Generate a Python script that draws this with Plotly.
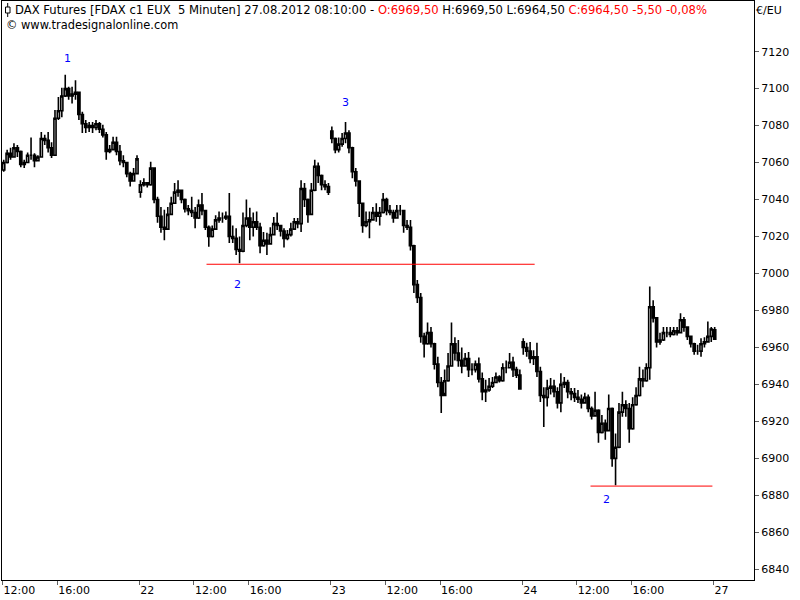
import plotly.graph_objects as go

# DAX futures, 15-minute candles
# (21.08.2012 12:00 .. 27.08.2012 08:10), sessions 08:00-22:00
highs = [
    7061.5, 7067, 7068, 7070.5, 7069.5, 7066.5, 7061.5, 7065.5, 7073.5, 7065,
    7064, 7076.5, 7075, 7076.5, 7071, 7088.5, 7095.5, 7100.5, 7107.5, 7101,
    7101, 7104.5, 7098.5, 7087.5, 7083, 7082, 7082, 7083, 7082, 7080.5,
    7076.5, 7069.5, 7074, 7074, 7069.5, 7064, 7060, 7055, 7057, 7064,
    7050.5, 7051.5, 7049.5, 7060.5, 7056, 7041.5, 7036, 7034.5, 7036, 7041.5,
    7049, 7050.5, 7045, 7040.5, 7037, 7041.5, 7036, 7040, 7043.5, 7034.5,
    7026, 7026, 7031.5, 7033.5, 7033, 7033.5, 7043.5, 7026, 7024.5, 7020,
    7033, 7040, 7035.5, 7033, 7033.5, 7027.5, 7022.5, 7022, 7025, 7030.5,
    7033, 7026, 7024.5, 7023.5, 7027.5, 7030, 7030, 7050.5, 7049, 7040.5,
    7049, 7061.5, 7060, 7053.5, 7050.5, 7049,
    7079.5, 7073.5, 7073.5, 7076, 7082, 7077.5, 7068.5, 7057, 7050.5, 7038,
    7033.5, 7033.5, 7036, 7038, 7036, 7043.5, 7041, 7037, 7034.5, 7037,
    7037, 7034.5, 7029, 7029, 7015.5, 6996.5, 6989.5, 6968, 6973.5, 6971,
    6962.5, 6955, 6944, 6948, 6957, 6973.5, 6965.5, 6964, 6960, 6957,
    6957.5, 6951.5, 6953, 6954.5, 6946.5, 6942.5, 6943.5, 6944, 6946.5, 6945,
    6951.5, 6953, 6957, 6955, 6949.5, 6948,
    6965, 6962.5, 6963, 6958.5, 6962.5, 6949.5, 6938.5, 6942.5, 6943.5, 6942.5,
    6938.5, 6946, 6944, 6942.5, 6938, 6938, 6937, 6934.5, 6935.5, 6934.5,
    6928, 6936, 6926.5, 6923.5, 6921, 6934.5, 6927.5, 6913.5, 6930, 6936,
    6931.5, 6930, 6933, 6938.5, 6949.5, 6948, 6951.5, 6993, 6985.5, 6976.5,
    6968, 6971, 6971, 6971, 6971, 6971, 6978.5, 6976.5, 6971, 6966.5,
    6962.5, 6961.5, 6965, 6965.5, 6974, 6971,
    6971,
]
lows = [
    7055, 7059.5, 7061.5, 7063, 7063, 7057.5, 7057, 7060, 7061.5, 7057.5,
    7061, 7063, 7069.5, 7065.5, 7062.5, 7064, 7083, 7084.5, 7095.5, 7094,
    7092, 7094, 7083, 7076, 7076, 7076.5, 7076, 7077.5, 7076, 7073.5,
    7061.5, 7065, 7066.5, 7064, 7058.5, 7057.5, 7052, 7047, 7050.5, 7053.5,
    7041, 7047, 7046.5, 7047.5, 7038, 7027.5, 7022, 7018, 7024.5, 7031.5,
    7038, 7041.5, 7038, 7033, 7031.5, 7030.5, 7024.5, 7029.5, 7031.5, 7023.5,
    7014.5, 7019.5, 7024.5, 7027.5, 7027.5, 7029, 7016.5, 7016.5, 7010, 7005.5,
    7011.5, 7025, 7018, 7020, 7023.5, 7011, 7014.5, 7010, 7015.5, 7020.5,
    7023.5, 7020, 7014, 7018, 7020, 7024.5, 7024.5, 7022.5, 7036, 7027.5,
    7031.5, 7044.5, 7049, 7045, 7045, 7042.5,
    7070.5, 7065, 7065.5, 7068.5, 7070.5, 7065, 7051.5, 7047, 7030.5, 7022,
    7025, 7019, 7028.5, 7028, 7026, 7032.5, 7031.5, 7031.5, 7027.5, 7030,
    7031.5, 7022, 7023.5, 7012.5, 6989.5, 6984, 6962.5, 6954.5, 6961.5, 6960,
    6948, 6938.5, 6924.5, 6935.5, 6941.5, 6949.5, 6953, 6949.5, 6946, 6949.5,
    6944, 6945, 6946.5, 6941, 6931.5, 6930.5, 6936, 6938, 6941, 6941,
    6941.5, 6946, 6949, 6944, 6943.5, 6937.5,
    6956, 6955, 6951.5, 6950.5, 6944, 6930.5, 6917, 6928, 6934.5, 6933,
    6927, 6925, 6938, 6932.5, 6931.5, 6930.5, 6930, 6927, 6930, 6925,
    6921, 6923.5, 6908.5, 6913.5, 6910, 6914.5, 6895.5, 6885.5, 6905.5, 6922.5,
    6922.5, 6908.5, 6915.5, 6928.5, 6933.5, 6938.5, 6941.5, 6942.5, 6973.5, 6960,
    6961.5, 6963.5, 6965.5, 6965.5, 6966.5, 6966.5, 6968, 6968.5, 6964, 6960,
    6956, 6956, 6955, 6960, 6963, 6963,
    6964.5,
]
closes = [
    7060, 7065, 7063, 7068, 7066, 7059, 7060, 7064, 7064, 7061,
    7063, 7073, 7072, 7068, 7064, 7084, 7088, 7096, 7100, 7096,
    7097, 7098, 7086, 7081, 7079, 7080, 7079, 7081, 7078, 7075,
    7066, 7067, 7071, 7066, 7061, 7060, 7054, 7050, 7054, 7062,
    7048, 7049, 7048, 7057, 7040, 7031, 7025, 7024, 7032, 7038,
    7044, 7045, 7040, 7035, 7034, 7033, 7030, 7037, 7034, 7025,
    7020, 7024, 7029, 7030, 7030, 7031, 7020, 7019, 7013, 7012,
    7026, 7030, 7025, 7028, 7025, 7015, 7018, 7016, 7021, 7027,
    7026, 7023, 7019, 7021, 7024, 7028, 7027, 7046, 7040, 7032,
    7045, 7058, 7053, 7048, 7047, 7044,
    7073, 7067, 7070, 7073, 7076, 7068, 7055, 7050, 7038, 7026,
    7028, 7029, 7033, 7031, 7033, 7040, 7034, 7033, 7030, 7034,
    7034, 7026, 7025, 7015, 6994, 6987, 6966, 6962, 6968, 6962,
    6951, 6941, 6934, 6942, 6950, 6962, 6957, 6953, 6950, 6954,
    6948, 6948, 6951, 6943, 6936, 6937, 6939, 6941, 6944, 6942,
    6949, 6949, 6952, 6948, 6945, 6937.5,
    6960, 6958, 6954, 6955, 6947, 6934, 6933, 6938, 6939, 6936,
    6930, 6940, 6941, 6936, 6935, 6933, 6932, 6930, 6933, 6927,
    6923, 6926, 6914, 6919, 6915, 6927, 6900, 6906, 6925, 6929,
    6927, 6916, 6929, 6934, 6943, 6942, 6949, 6982, 6976, 6963,
    6964, 6968, 6968, 6967, 6969, 6968, 6975, 6971, 6966, 6962,
    6958, 6958, 6962, 6963, 6966, 6970,
    6964.5,
]
# first bar of each session and its opening price
session_start_bars = [0, 40, 96, 152, 208]
session_opens = [7056, 7044, 7077, 6963, 6969.5]

# time axis in 5-minute slots (slot 0 = 21.08. 12:00)
tick_slots = [0, 48, 120, 168, 216, 288, 336, 384, 456, 504, 552, 624]
tick_text = ["12:00", "16:00", "22", "12:00", "16:00", "23",
             "12:00", "16:00", "24", "12:00", "16:00", "27"]
price_ticks = list(range(6840, 7121, 20))

# red support lines (slot from, slot to, level)
support_from = [179, 516]
support_to = [467, 623]
support_level = [7005, 6885]

# wave counts
wave_labels = ["1", "2", "3", "2"]
wave_slots = [57, 206, 301, 530]
wave_prices = [7116.5, 6994, 7092.5, 6877.5]

opens = []
for i in range(len(closes)):
    if i in session_start_bars:
        opens.append(session_opens[session_start_bars.index(i)])
    else:
        opens.append(closes[i - 1])
bar_slots = [3 * i + 1 for i in range(len(closes))]

fig = go.Figure()
fig.add_trace(go.Candlestick(
    x=bar_slots, open=opens, high=highs, low=lows, close=closes,
    increasing=dict(fillcolor="white", line=dict(color="black", width=1.6)),
    decreasing=dict(fillcolor="black", line=dict(color="black", width=1.6)),
    whiskerwidth=0, showlegend=False, hoverinfo="skip",
))
for x0, x1, lvl in zip(support_from, support_to, support_level):
    fig.add_trace(go.Scatter(x=[x0, x1], y=[lvl, lvl], mode="lines",
                             line=dict(color="#ff0000", width=1),
                             showlegend=False, hoverinfo="skip"))

for lab, xs, ys in zip(wave_labels, wave_slots, wave_prices):
    fig.add_annotation(x=xs, y=ys, text=lab, showarrow=False,
                       font=dict(color="#0000ff", size=11))

# plot area spans 2..754 px horizontally, 1..580 px vertically
def px(x, y):
    return (x - 2) / 752, 1 - (y - 1) / 579

hx, hy = px(12.5, 10)
fig.add_annotation(
    xref="paper", yref="paper", x=hx, y=hy, xanchor="left", yanchor="middle",
    showarrow=False, font=dict(size=11.6, color="black"),
    text="DAX Futures [FDAX c1 EUX\u00a0 5 Minuten] 27.08.2012 08:10:00 - "
         "<span style='color:#ff0000'>O:6969,50</span> H:6969,50 L:6964,50 "
         "<span style='color:#ff0000'>C:6964,50 -5,50 -0,08%</span>")
cx, cy = px(4, 25)
fig.add_annotation(xref="paper", yref="paper", x=cx, y=cy, xanchor="left",
                   yanchor="middle", showarrow=False,
                   font=dict(size=11.4, color="black"),
                   text="\u00a9 www.tradesignalonline.com")
fig.add_annotation(xref="paper", yref="paper", x=1, y=hy, xanchor="left",
                   yanchor="middle", xshift=0, showarrow=False,
                   font=dict(size=11, color="black"), text="\u20ac/EU")

# little candle icon in front of the title
lx0, ly0 = px(7.7, 3)
lx1, ly1 = px(7.7, 17)
fig.add_shape(type="line", xref="paper", yref="paper", x0=lx0, y0=ly0,
              x1=lx1, y1=ly1, line=dict(color="black", width=1))
rx0, ry0 = px(5.5, 7)
rx1, ry1 = px(10, 13)
fig.add_shape(type="rect", xref="paper", yref="paper", x0=rx0, y0=ry0,
              x1=rx1, y1=ry1, fillcolor="white", line=dict(color="black", width=1))

fig.update_layout(
    width=800, height=600,
    margin=dict(l=2, r=46, t=1, b=20, autoexpand=False),
    paper_bgcolor="white", plot_bgcolor="white",
    font=dict(family="DejaVu Sans, Verdana, sans-serif", size=11, color="black"),
    showlegend=False, boxgap=0.1,
)
fig.update_xaxes(
    range=[-0.5, 659.5], rangeslider_visible=False, automargin=False,
    tickvals=tick_slots, ticktext=tick_text,
    ticks="outside", ticklen=4, tickcolor="#606060",
    ticklabelposition="outside right", ticklabelstandoff=0,
    showgrid=False, zeroline=False,
    showline=True, linecolor="black", linewidth=1, mirror=True,
)
fig.update_yaxes(
    range=[6834.2, 7147.4], side="right", automargin=False,
    tickvals=price_ticks, ticks="outside", ticklen=4, tickcolor="#606060",
    showgrid=False, zeroline=False,
    showline=True, linecolor="black", linewidth=1, mirror=True,
)

# the page's default 8px body margin would push the 800x600 chart off-window
fig.write_html("out.html", config={"displayModeBar": False},
               post_script="document.body.style.margin='0';")
